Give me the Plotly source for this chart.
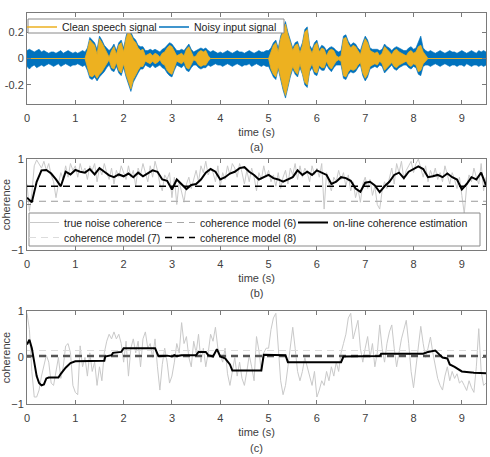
import numpy as np
import plotly.graph_objects as go

# ---------------- data ----------------
STEP = 0.05          # s, sampling of the read-off values
TIME_END = 9.5
X_TICKS = [0, 1, 2, 3, 4, 5, 6, 7, 8, 9]
Y_TICKS_A = [-0.2, 0, 0.2]
Y_TICK_TEXT_A = ["-0.2", "0", "0.2"]
Y_TICKS_BC = [-1, 0, 1]

# (a) envelope of the noisy input signal (0 .. 9.5 s)
NOISY_UPPER = (
    [0.06, 0.07, 0.06, 0.05, 0.06, 0.07, 0.05, 0.06, 0.05, 0.04, 0.05, 0.05, 0.04, 0.05, 0.06, 0.04, 0.05, 0.06, 0.05, 0.04]
    + [0.05, 0.04, 0.05, 0.06, 0.05, 0.08, 0.16, 0.14, 0.12, 0.07, 0.17, 0.14, 0.10, 0.08, 0.06, 0.08, 0.11, 0.06, 0.12, 0.14]
    + [0.08, 0.17, 0.23, 0.20, 0.16, 0.14, 0.10, 0.09, 0.09, 0.06, 0.06, 0.07, 0.06, 0.07, 0.06, 0.05, 0.07, 0.08, 0.10, 0.12]
    + [0.11, 0.08, 0.06, 0.06, 0.07, 0.06, 0.09, 0.11, 0.07, 0.05, 0.06, 0.07, 0.08, 0.07, 0.08, 0.06, 0.05, 0.06, 0.05, 0.04]
    + [0.05, 0.04, 0.05, 0.06, 0.05, 0.04, 0.05, 0.06, 0.05, 0.05, 0.04, 0.05, 0.06, 0.05, 0.04, 0.05, 0.06, 0.05, 0.05, 0.06]
    + [0.06, 0.08, 0.12, 0.14, 0.08, 0.17, 0.22, 0.28, 0.20, 0.14, 0.08, 0.12, 0.13, 0.07, 0.12, 0.22, 0.24, 0.10, 0.07, 0.12]
    + [0.14, 0.07, 0.10, 0.09, 0.06, 0.08, 0.09, 0.08, 0.06, 0.05, 0.06, 0.17, 0.18, 0.13, 0.10, 0.12, 0.11, 0.08, 0.06, 0.12]
    + [0.17, 0.14, 0.08, 0.07, 0.07, 0.07, 0.06, 0.07, 0.11, 0.09, 0.08, 0.06, 0.08, 0.09, 0.08, 0.07, 0.06, 0.06, 0.08, 0.09]
    + [0.07, 0.08, 0.12, 0.17, 0.08, 0.06, 0.05, 0.06, 0.05, 0.04, 0.05, 0.06, 0.05, 0.04, 0.05, 0.06, 0.05, 0.05, 0.04, 0.05]
    + [0.06, 0.05, 0.04, 0.05, 0.06, 0.05, 0.04, 0.06, 0.05, 0.06, 0.05]
)
NOISY_LOWER = (
    [-0.06, -0.08, -0.06, -0.05, -0.07, -0.06, -0.05, -0.06, -0.05, -0.04, -0.05, -0.06, -0.05, -0.04, -0.06, -0.05, -0.04, -0.05, -0.06, -0.05]
    + [-0.05, -0.04, -0.05, -0.06, -0.05, -0.09, -0.15, -0.16, -0.14, -0.17, -0.14, -0.12, -0.10, -0.07, -0.05, -0.09, -0.10, -0.06, -0.11, -0.13]
    + [-0.07, -0.14, -0.20, -0.25, -0.18, -0.14, -0.11, -0.08, -0.08, -0.05, -0.06, -0.07, -0.05, -0.07, -0.06, -0.05, -0.07, -0.08, -0.11, -0.13]
    + [-0.14, -0.09, -0.05, -0.06, -0.07, -0.05, -0.09, -0.10, -0.07, -0.05, -0.05, -0.07, -0.08, -0.07, -0.07, -0.05, -0.06, -0.05, -0.04, -0.05]
    + [-0.05, -0.06, -0.05, -0.04, -0.05, -0.06, -0.05, -0.04, -0.05, -0.06, -0.05, -0.05, -0.04, -0.06, -0.05, -0.04, -0.05, -0.06, -0.05, -0.06]
    + [-0.06, -0.10, -0.14, -0.16, -0.08, -0.17, -0.24, -0.30, -0.22, -0.14, -0.08, -0.12, -0.14, -0.07, -0.12, -0.20, -0.22, -0.10, -0.07, -0.12]
    + [-0.13, -0.07, -0.09, -0.09, -0.05, -0.08, -0.10, -0.07, -0.05, -0.05, -0.05, -0.15, -0.16, -0.12, -0.10, -0.11, -0.10, -0.07, -0.05, -0.13]
    + [-0.17, -0.14, -0.08, -0.07, -0.06, -0.07, -0.05, -0.06, -0.11, -0.09, -0.07, -0.05, -0.08, -0.09, -0.07, -0.06, -0.05, -0.05, -0.07, -0.08]
    + [-0.06, -0.07, -0.12, -0.13, -0.06, -0.05, -0.05, -0.06, -0.05, -0.04, -0.05, -0.06, -0.05, -0.04, -0.05, -0.06, -0.05, -0.05, -0.06, -0.05]
    + [-0.05, -0.06, -0.04, -0.05, -0.06, -0.05, -0.05, -0.06, -0.05, -0.06, -0.05]
)

# (a) envelope of the clean speech signal (0 .. 9.5 s)
CLEAN_UPPER = (
    [0.0] * 24
    + [0.0, 0.06, 0.14, 0.12, 0.10, 0.03, 0.15, 0.12, 0.08, 0.05, 0.01, 0.06, 0.09, 0.03, 0.10, 0.12]
    + [0.05, 0.15, 0.21, 0.18, 0.14, 0.12, 0.08, 0.06, 0.07, 0.02, 0.03, 0.04, 0.02, 0.04, 0.03, 0.01, 0.04, 0.05, 0.08, 0.10]
    + [0.09, 0.06, 0.02, 0.03, 0.04, 0.02, 0.07, 0.09, 0.05, 0.01, 0.02, 0.05, 0.06, 0.05, 0.06, 0.02, 0.0, 0.0, 0.0, 0.0]
    + [0.0] * 20
    + [0.0, 0.05, 0.10, 0.12, 0.05, 0.15, 0.20, 0.26, 0.18, 0.12, 0.06, 0.10, 0.11, 0.04, 0.10, 0.20, 0.22, 0.08, 0.04, 0.10]
    + [0.12, 0.05, 0.08, 0.07, 0.02, 0.06, 0.07, 0.06, 0.02, 0.01, 0.02, 0.15, 0.16, 0.11, 0.08, 0.10, 0.09, 0.06, 0.03, 0.10]
    + [0.15, 0.12, 0.06, 0.05, 0.04, 0.05, 0.02, 0.04, 0.09, 0.07, 0.05, 0.03, 0.06, 0.07, 0.05, 0.04, 0.03, 0.02, 0.05, 0.06]
    + [0.04, 0.05, 0.09, 0.10, 0.05, 0.02, 0.0]
    + [0.0] * 24
)
CLEAN_LOWER = (
    [0.0] * 24
    + [0.0, -0.07, -0.13, -0.14, -0.12, -0.15, -0.12, -0.10, -0.08, -0.04, -0.01, -0.07, -0.08, -0.03, -0.09, -0.11]
    + [-0.04, -0.12, -0.18, -0.23, -0.16, -0.12, -0.09, -0.06, -0.06, -0.02, -0.03, -0.04, -0.02, -0.04, -0.03, -0.01, -0.04, -0.05, -0.09, -0.11]
    + [-0.12, -0.07, -0.02, -0.03, -0.04, -0.02, -0.07, -0.08, -0.04, -0.01, -0.02, -0.05, -0.06, -0.05, -0.05, -0.02, 0.0, 0.0, 0.0, 0.0]
    + [0.0] * 20
    + [0.0, -0.08, -0.12, -0.14, -0.06, -0.15, -0.22, -0.28, -0.20, -0.12, -0.06, -0.10, -0.12, -0.04, -0.10, -0.18, -0.20, -0.08, -0.04, -0.10]
    + [-0.11, -0.05, -0.07, -0.07, -0.02, -0.06, -0.08, -0.05, -0.02, -0.01, -0.02, -0.13, -0.14, -0.10, -0.08, -0.09, -0.08, -0.05, -0.03, -0.11]
    + [-0.15, -0.12, -0.06, -0.05, -0.04, -0.05, -0.02, -0.04, -0.09, -0.07, -0.05, -0.03, -0.06, -0.07, -0.05, -0.04, -0.03, -0.02, -0.05, -0.06]
    + [-0.04, -0.05, -0.10, -0.09, -0.04, -0.02, 0.0]
    + [0.0] * 24
)

# (b) true noise coherence (0 .. 9.5 s, every 0.05 s)
TRUE_COH_B = (
    [0.45, -0.15, 0.25, 0.85, 0.98, 0.90, 0.80, 0.95, 0.75, 0.90, 0.65, 0.50, 0.15, 0.45, 0.70, 0.55, 0.85, 0.60, 0.90, 0.75]
    + [0.85, 0.60, 0.90, 0.70, 0.80, 0.55, 0.85, 0.75, 0.90, 0.50, 0.80, 0.65, 0.90, 0.70, 0.55, 0.80, 0.45, 0.75, 0.60, 0.85]
    + [0.70, 0.55, 0.85, 0.60, 0.75, 0.40, 0.80, 0.65, 0.90, 0.70, 0.50, 0.85, 0.60, 0.95, 0.75, 0.45, 0.30, 0.65, 0.55, 0.70]
    + [0.15, 0.60, 0.00, 0.50, 0.30, 0.05, 0.45, 0.60, 0.35, 0.55, 0.75, 0.50, 0.85, 0.70, 0.95, 0.65, 0.80, 0.70, 0.50, 0.85]
    + [0.40, 0.70, 0.55, 0.85, 0.65, 0.90, 0.80, 0.60, 0.90, 0.70, 0.45, 0.75, 0.50, 0.80, 0.60, 0.30, 0.70, 0.55, 0.85, 0.60]
    + [0.75, 0.50, 0.65, 0.40, 0.70, 0.35, 0.60, 0.75, 0.45, 0.80, 0.65, 0.90, 0.55, 0.85, 0.60, 0.80, 0.70, 0.50, 0.85, 0.65]
    + [0.80, 0.60, 0.90, -0.10, 0.70, 0.45, 0.30, 0.60, 0.50, 0.75, 0.55, 0.70, 0.40, 0.65, 0.30, 0.50, 0.15, 0.35, 0.05, 0.45]
    + [0.60, 0.35, 0.55, 0.20, 0.40, 0.00, -0.10, 0.30, 0.50, 0.35, 0.60, 0.80, 0.45, 0.90, 0.70, 0.95, 0.55, 0.75, 0.85, 0.95]
    + [0.70, 0.90, 1.00, 0.80, 0.60, 0.85, 0.50, 0.75, 0.60, 0.80, 0.55, 0.70, 0.50, 0.85, 0.65, 0.45, 0.70, 0.55, 0.35, 0.60]
    + [0.20, -0.20, 0.40, 0.65, 0.50, 0.80, 0.60, 0.45, 0.90, 0.30, 0.60]
)
# (b) on-line coherence estimation (every 0.1 s)
EST_TIME_B = [round(0.1 * i, 1) for i in range(96)]
EST_COH_B = [
    0.15, 0.05, 0.50, 0.75, 0.76, 0.68, 0.55, 0.40, 0.72, 0.66,
    0.76, 0.72, 0.70, 0.78, 0.66, 0.80, 0.72, 0.64, 0.60, 0.66,
    0.62, 0.68, 0.60, 0.70, 0.62, 0.68, 0.75, 0.72, 0.55, 0.52,
    0.33, 0.55, 0.45, 0.34, 0.43, 0.45, 0.55, 0.70, 0.78, 0.72,
    0.55, 0.60, 0.68, 0.72, 0.80, 0.82, 0.72, 0.65, 0.55, 0.60,
    0.65, 0.58, 0.55, 0.50, 0.55, 0.60, 0.75, 0.65, 0.72, 0.65,
    0.75, 0.70, 0.65, 0.45, 0.50, 0.60, 0.58, 0.52, 0.35, 0.28,
    0.48, 0.50, 0.42, 0.27, 0.40, 0.50, 0.65, 0.70, 0.58, 0.72,
    0.78, 0.84, 0.78, 0.60, 0.62, 0.65, 0.60, 0.68, 0.60, 0.55,
    0.33, 0.45, 0.60, 0.55, 0.70, 0.42,
]
MODEL6_B = 0.07
MODEL7_B = 0.07
MODEL8_B = 0.40

# (c) true noise coherence (0 .. 9.5 s, every 0.05 s)
TRUE_COH_C = (
    [0.95, 0.60, -0.30, -0.85, -0.85, -0.70, -0.40, -0.20, 0.05, -0.10, -0.55, -0.60, -0.30, 0.00, -0.45, -0.20, 0.25, 0.30, 0.10, -0.60]
    + [-0.75, -0.80, 0.25, -0.20, 0.00, -0.40, 0.10, -0.30, -0.10, -0.60, -0.20, -0.50, 0.10, 0.35, 0.50, 0.40, 0.55, 0.40, 0.50, 0.30]
    + [-0.10, 0.35, -0.40, 0.20, 0.40, 0.10, 0.35, -0.20, 0.40, 0.55, 0.20, 0.30, 0.00, 0.40, -0.20, -0.70, -0.15, 0.20, -0.10, -0.55]
    + [-0.40, -0.10, 0.30, 0.10, 0.75, 0.30, 0.45, 0.00, -0.20, 0.35, 0.10, 0.50, -0.10, 0.20, -0.20, 0.10, 0.50, 0.35, 0.65, 0.20]
    + [0.05, -0.10, 0.20, -0.35, -0.60, -0.30, 0.00, -0.40, -0.10, -0.45, -0.60, -0.30, 0.05, -0.20, -0.50, 0.45, 0.15, -0.30, 0.10, 0.20]
    + [0.20, 0.60, 0.85, 0.95, 0.30, -0.50, -0.80, -0.60, -0.20, 0.30, 0.65, 0.20, -0.30, -0.50, -0.30, 0.00, -0.20, -0.40, -0.60, -0.30]
    + [-0.85, -0.70, -0.50, -0.60, -0.30, -0.50, -0.20, -0.40, -0.10, -0.30, 0.10, 0.30, 0.50, 0.85, 0.95, 0.40, 0.60, 0.80, 0.20, -0.10]
    + [0.20, 0.45, 0.00, 0.30, -0.20, 0.10, 0.70, 0.20, -0.10, 0.30, 0.55, 0.70, 0.20, -0.20, 0.10, 0.40, 0.60, 0.80, 0.30, -0.30]
    + [-0.65, -0.20, 0.30, 0.67, 0.30, 0.00, 0.20, 0.44, 0.10, -0.20, -0.45, -0.60, -0.70, -0.40, -0.20, -0.50, -0.30, -0.45, -0.35, -0.55]
    + [-0.50, -0.60, -0.71, -0.50, -0.65, -0.75, -0.20, 0.62, -0.30, -0.60, -0.55]
)
# (c) on-line coherence estimation (break points)
EST_TIME_C = [0.0, 0.05, 0.1, 0.15, 0.2, 0.25, 0.3, 0.35, 0.4, 0.45, 0.65, 0.7, 0.75, 0.8, 0.9, 1.0,
              1.6, 1.62, 1.75, 1.78, 1.95, 2.0, 2.65, 2.72, 2.9, 3.0, 3.05, 3.1, 3.2, 3.5, 3.55, 3.7,
              3.75, 3.85, 3.93, 4.0, 4.1, 4.2, 4.25, 4.85, 4.9, 5.35, 5.4, 6.5, 6.55, 7.3, 7.33, 8.2,
              8.3, 8.45, 8.5, 8.6, 8.7, 8.75, 8.85, 8.9, 9.0, 9.2, 9.25, 9.5]
EST_COH_C = [0.28, 0.38, 0.20, -0.15, -0.40, -0.55, -0.60, -0.58, -0.45, -0.43, -0.43, -0.35, -0.28, -0.22, -0.12, -0.08,
             -0.07, 0.02, 0.05, 0.10, 0.12, 0.20, 0.20, 0.03, 0.04, 0.02, 0.05, 0.03, 0.05, 0.05, 0.12, 0.12,
             0.05, 0.02, 0.18, 0.02, -0.02, -0.15, -0.28, -0.28, 0.06, 0.05, -0.10, -0.10, 0.02, 0.03, 0.08, 0.08,
             0.12, 0.15, 0.10, 0.00, -0.02, -0.15, -0.20, -0.24, -0.30, -0.32, -0.33, -0.34]
MODEL6_C = 0.03
MODEL7_C = 0.15
MODEL8_C = 0.03

for arr in (NOISY_UPPER, NOISY_LOWER, CLEAN_UPPER, CLEAN_LOWER, TRUE_COH_B, TRUE_COH_C):
    assert len(arr) == 191, len(arr)
assert len(EST_TIME_C) == len(EST_COH_C)
assert len(EST_COH_B) == 96

# ---------------- styling ----------------
ORANGE = "#EDB120"
BLUE = "#0072BD"
LIGHT = "#c9c9c9"
M6 = "#a6a6a6"
M7 = "#dcdcdc"
FONT = "Liberation Sans, Arial, sans-serif"
TXT = "#404040"
FRAME = "#7a7a7a"
BOX = "#8a8a8a"
W, H = 490, 457


def t_grid(n):
    return np.round(np.arange(n) * STEP, 2)


def px_x(p):
    return p / W


def px_y(p):
    return 1 - p / H


fig = go.Figure()

# ---- panel (a)
t = t_grid(len(NOISY_UPPER))
fig.add_trace(go.Scatter(
    x=np.concatenate([t, t[::-1]]), y=np.concatenate([NOISY_UPPER, NOISY_LOWER[::-1]]),
    fill="toself", fillcolor=BLUE, mode="lines", line=dict(color=BLUE, width=0.6),
    showlegend=False, hoverinfo="skip", xaxis="x", yaxis="y"))
fig.add_trace(go.Scatter(
    x=np.concatenate([t, t[::-1]]), y=np.concatenate([CLEAN_UPPER, CLEAN_LOWER[::-1]]),
    fill="toself", fillcolor=ORANGE, mode="lines", line=dict(color=ORANGE, width=0.8),
    showlegend=False, hoverinfo="skip", xaxis="x", yaxis="y"))
fig.add_trace(go.Scatter(x=[None], y=[None], mode="lines", line=dict(color=ORANGE, width=1.5),
                         name="Clean speech signal", legend="legend", xaxis="x", yaxis="y"))
fig.add_trace(go.Scatter(x=[None], y=[None], mode="lines", line=dict(color=BLUE, width=1.5),
                         name="Noisy input signal", legend="legend2", xaxis="x", yaxis="y"))

DASH = "7px,5px"
span = [0, TIME_END]

# ---- panel (b)
tb = t_grid(len(TRUE_COH_B))
fig.add_trace(go.Scatter(x=tb, y=TRUE_COH_B, mode="lines", line=dict(color=LIGHT, width=1),
                         name="true noise coherence", legend="legend3", xaxis="x2", yaxis="y2"))
fig.add_trace(go.Scatter(x=span, y=[MODEL7_B] * 2, mode="lines", line=dict(color=M7, width=1, dash=DASH),
                         name="coherence model (7)", legend="legend4", xaxis="x2", yaxis="y2"))
fig.add_trace(go.Scatter(x=span, y=[MODEL6_B] * 2, mode="lines", line=dict(color=M6, width=1, dash=DASH),
                         name="coherence model (6)", legend="legend5", xaxis="x2", yaxis="y2"))
fig.add_trace(go.Scatter(x=span, y=[MODEL8_B] * 2, mode="lines", line=dict(color="black", width=1.5, dash=DASH),
                         name="coherence model (8)", legend="legend6", xaxis="x2", yaxis="y2"))
fig.add_trace(go.Scatter(x=EST_TIME_B, y=EST_COH_B, mode="lines", line=dict(color="black", width=2),
                         name="on-line coherence estimation", legend="legend7", xaxis="x2", yaxis="y2"))

# ---- panel (c)
tc = t_grid(len(TRUE_COH_C))
fig.add_trace(go.Scatter(x=tc, y=TRUE_COH_C, mode="lines", line=dict(color=LIGHT, width=1),
                         showlegend=False, xaxis="x3", yaxis="y3"))
fig.add_trace(go.Scatter(x=span, y=[MODEL7_C] * 2, mode="lines", line=dict(color=M7, width=1, dash=DASH),
                         showlegend=False, xaxis="x3", yaxis="y3"))
fig.add_trace(go.Scatter(x=span, y=[MODEL6_C] * 2, mode="lines", line=dict(color=M6, width=3, dash=DASH),
                         showlegend=False, xaxis="x3", yaxis="y3"))
fig.add_trace(go.Scatter(x=span, y=[MODEL8_C] * 2, mode="lines", line=dict(color="#555555", width=2, dash=DASH),
                         showlegend=False, xaxis="x3", yaxis="y3"))
fig.add_trace(go.Scatter(x=EST_TIME_C, y=EST_COH_C, mode="lines", line=dict(color="black", width=2),
                         showlegend=False, xaxis="x3", yaxis="y3"))

# ---------------- axes ----------------
x_dom = [px_x(27), px_x(486)]
common = dict(showline=True, linecolor=FRAME, linewidth=1, mirror="ticks", ticks="inside",
              ticklen=4, tickcolor=FRAME, showgrid=False, zeroline=False, automargin=False,
              tickfont=dict(family=FONT, size=11, color=TXT))


def xaxis(anchor):
    return dict(common, domain=x_dom, range=[0, TIME_END], tickvals=X_TICKS, anchor=anchor,
                ticklabelstandoff=4,
                title=dict(text="time (s)", font=dict(family=FONT, size=11, color=TXT), standoff=5))


def single_legend(x_px, y_center_px, size):
    return dict(orientation="v", x=px_x(x_px), y=px_y(y_center_px - 14), xanchor="left", yanchor="top",
                bgcolor="rgba(0,0,0,0)", borderwidth=0, itemwidth=30, tracegroupgap=0,
                font=dict(family=FONT, size=size, color="#222"))


fig.update_layout(
    width=W, height=H, margin=dict(l=0, r=0, t=0, b=0),
    paper_bgcolor="white", plot_bgcolor="white",
    font=dict(family=FONT, size=11, color=TXT),
    xaxis=xaxis("y"), xaxis2=xaxis("y2"), xaxis3=xaxis("y3"),
    yaxis=dict(common, domain=[px_y(104), px_y(13)], range=[-0.345, 0.345], tickvals=Y_TICKS_A,
               ticktext=Y_TICK_TEXT_A, anchor="x"),
    yaxis2=dict(common, domain=[px_y(250), px_y(159)], range=[-1, 1], tickvals=Y_TICKS_BC, anchor="x2",
                title=dict(text="coherence", font=dict(family=FONT, size=11, color=TXT), standoff=4)),
    yaxis3=dict(common, domain=[px_y(404), px_y(311)], range=[-1, 1], tickvals=Y_TICKS_BC, anchor="x3",
                title=dict(text="coherence", font=dict(family=FONT, size=11, color=TXT), standoff=4)),
    legend=single_legend(22, 26.5, 10.5),
    legend2=single_legend(154, 26.5, 10.5),
    legend3=single_legend(24, 222, 10.5),
    legend4=single_legend(24, 237, 10.5),
    legend5=single_legend(160, 222, 10.5),
    legend6=single_legend(160, 237, 10.5),
    legend7=single_legend(293, 222, 10.5),
    showlegend=True,
)

# legend frames
fig.add_shape(type="rect", xref="paper", yref="paper", x0=px_x(28), x1=px_x(284), y0=px_y(33), y1=px_y(19),
              fillcolor="white", line=dict(color=BOX, width=1), layer="above")
fig.add_shape(type="rect", xref="paper", yref="paper", x0=px_x(29), x1=px_x(480), y0=px_y(246), y1=px_y(213),
              fillcolor="white", line=dict(color=BOX, width=1), layer="above")

for label, ypx in (("(a)", 147), ("(b)", 293), ("(c)", 448)):
    fig.add_annotation(text=label, xref="paper", yref="paper", x=px_x(256.5), y=px_y(ypx),
                       showarrow=False, font=dict(family=FONT, size=11, color=TXT),
                       xanchor="center", yanchor="middle")

fig.write_html("out.html")
